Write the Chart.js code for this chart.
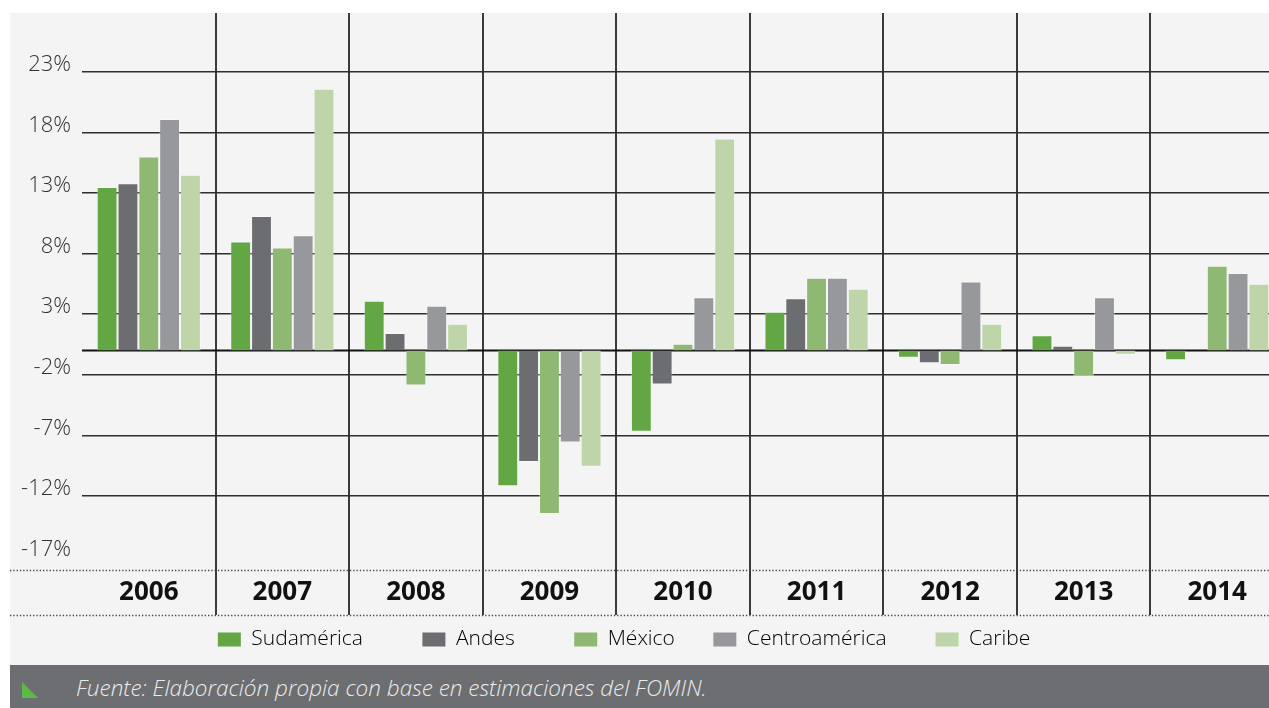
<!DOCTYPE html>
<html>
<head>
<meta charset="utf-8">
<script src="https://cdn.jsdelivr.net/npm/chart.js@4"></script>
<style>
  html, body { margin: 0; padding: 0; background: #fff; overflow: hidden; }
  #panel { position: absolute; left: 10px; top: 13px; width: 1259px; height: 652px; background: #f3f4f3; overflow: hidden; }
  #panel canvas { position: absolute; left: 0; top: 0; }
  #footer { position: absolute; left: 10px; top: 665px; width: 1259px; height: 43px; background: #6d6e71; }
  #footer .mark { position: absolute; left: 12px; top: 17px; width: 0; height: 0; border-left: 16px solid #5fb946; border-top: 16px solid transparent; }
  #footer .src { position: absolute; left: 66px; top: 1px; font: italic 300 22.5px 'Open Sans', sans-serif; line-height: 43px; color: #ececec; white-space: nowrap; }
</style>
</head>
<body>
<div id="panel"><canvas id="myChart" width="1303" height="652"></canvas></div>
<div id="footer"><div class="mark"></div><div class="src">Fuente: Elaboración propia con base en estimaciones del FOMIN.</div></div>
<script>
// datos (% de variacion anual)
const years = ['2006', '2007', '2008', '2009', '2010', '2011', '2012', '2013', '2014'];
const sudamerica = [13.5, 9.0, 4.1, -11.2, -6.7, 3.2, -0.6, 1.25, -0.8];
const andes = [13.8, 11.1, 1.45, -9.2, -2.8, 4.3, -1.05, 0.4, 0];
const mexico = [16.0, 8.5, -2.9, -13.5, 0.55, 6.0, -1.2, -2.1, 7.0];
const centroamerica = [19.1, 9.5, 3.7, -7.6, 4.4, 6.0, 5.7, 4.4, 6.4];
const caribe = [14.5, 21.6, 2.2, -9.6, 17.5, 5.1, 2.2, -0.35, 5.5];
const yTicks = [23, 18, 13, 8, 3, -2, -7, -12, -17];

// espacio extra entre items de la leyenda
const legendGap = ['\u2003\u2003\u2009', '\u2003\u2003\u2009', '\u2003\u2009', '\u2003\u2002\u2009', ''];

Chart.defaults.font.family = "'Open Sans', sans-serif";
Chart.defaults.color = '#333';

const gridLines = {
    id: 'gridLines',
    beforeDatasetsDraw(chart) {
        const { ctx, chartArea, scales: { y } } = chart;
        const y0 = y.getPixelForValue(0);
        ctx.save();
        ctx.strokeStyle = '#111';
        ctx.lineWidth = 2;
        ctx.beginPath();
        ctx.moveTo(chartArea.left, y0);
        ctx.lineTo(chartArea.right, y0);
        ctx.stroke();
        ctx.restore();
    },
    afterDraw(chart) {
        const { ctx, chartArea, scales: { x } } = chart;
        ctx.save();
        // lineas verticales dentro de la banda de los anos
        ctx.strokeStyle = '#3a3a3a';
        ctx.lineWidth = 2;
        for (let i = 1; i < years.length; i++) {
            const px = Math.round(x.getPixelForValue(i - 0.5));
            ctx.beginPath();
            ctx.moveTo(px, chartArea.bottom);
            ctx.lineTo(px, x.bottom);
            ctx.stroke();
        }
        // lineas punteadas
        ctx.strokeStyle = '#444';
        ctx.lineWidth = 1.3;
        ctx.setLineDash([1.3, 2]);
        [chartArea.bottom, x.bottom].forEach(yy => {
            ctx.beginPath();
            ctx.moveTo(0, Math.round(yy) + 0.5);
            ctx.lineTo(chart.width, Math.round(yy) + 0.5);
            ctx.stroke();
        });
        ctx.restore();
    }
};

const series = [
    { label: 'Sudamérica', data: sudamerica, color: '#62a744' },
    { label: 'Andes', data: andes, color: '#6c6d70' },
    { label: 'México', data: mexico, color: '#8fb972' },
    { label: 'Centroamérica', data: centroamerica, color: '#97989b' },
    { label: 'Caribe', data: caribe, color: '#bed5aa' }
];

new Chart(document.getElementById('myChart'), {
    type: 'bar',
    data: {
        labels: years,
        datasets: series.map(s => ({
            label: s.label,
            data: s.data,
            backgroundColor: s.color,
            borderColor: 'rgba(255,255,255,0.35)',
            borderWidth: 1,
            categoryPercentage: 0.78,
            barPercentage: 1.0
        }))
    },
    options: {
        responsive: false,
        animation: false,
        devicePixelRatio: 1,
        // el padding izquierdo negativo centra la leyenda como en el original
        layout: { padding: { top: 0, left: -46, right: 29, bottom: 5 } },
        plugins: {
            tooltip: { enabled: false },
            legend: {
                position: 'bottom',
                labels: {
                    boxWidth: 23,
                    boxHeight: 14,
                    padding: 14,
                    color: '#333',
                    font: { size: 21, weight: '300' },
                    generateLabels(chart) {
                        return chart.data.datasets.map((ds, i) => ({
                            text: ds.label + legendGap[i],
                            fillStyle: ds.backgroundColor,
                            strokeStyle: ds.backgroundColor,
                            lineWidth: 0,
                            datasetIndex: i
                        }));
                    }
                }
            }
        },
        scales: {
            x: {
                offset: true,
                border: { display: false },
                grid: {
                    offset: true,
                    drawTicks: false,
                    lineWidth: 2,
                    color: c => c.index === 0 ? 'transparent' : '#3a3a3a'
                },
                ticks: {
                    padding: 7,
                    color: '#111',
                    font: { size: 26, weight: 'bold' }
                }
            },
            y: {
                min: -18.1,
                max: 27.85,
                border: { display: false },
                afterFit(scale) {
                    scale.width = 118;
                    scale.paddingTop = 0;
                    scale.paddingBottom = 0;
                },
                afterBuildTicks(scale) { scale.ticks = yTicks.map(v => ({ value: v })); },
                grid: {
                    drawTicks: false,
                    lineWidth: 1.5,
                    color: c => (c.tick && c.tick.value === -17) ? 'transparent' : '#2e2e2e'
                },
                ticks: {
                    padding: 11,
                    labelOffset: -7,
                    color: '#333',
                    font: { size: 22, weight: '300' },
                    callback: v => v + '%'
                }
            }
        }
    },
    plugins: [gridLines]
});
</script>
</body>
</html>
